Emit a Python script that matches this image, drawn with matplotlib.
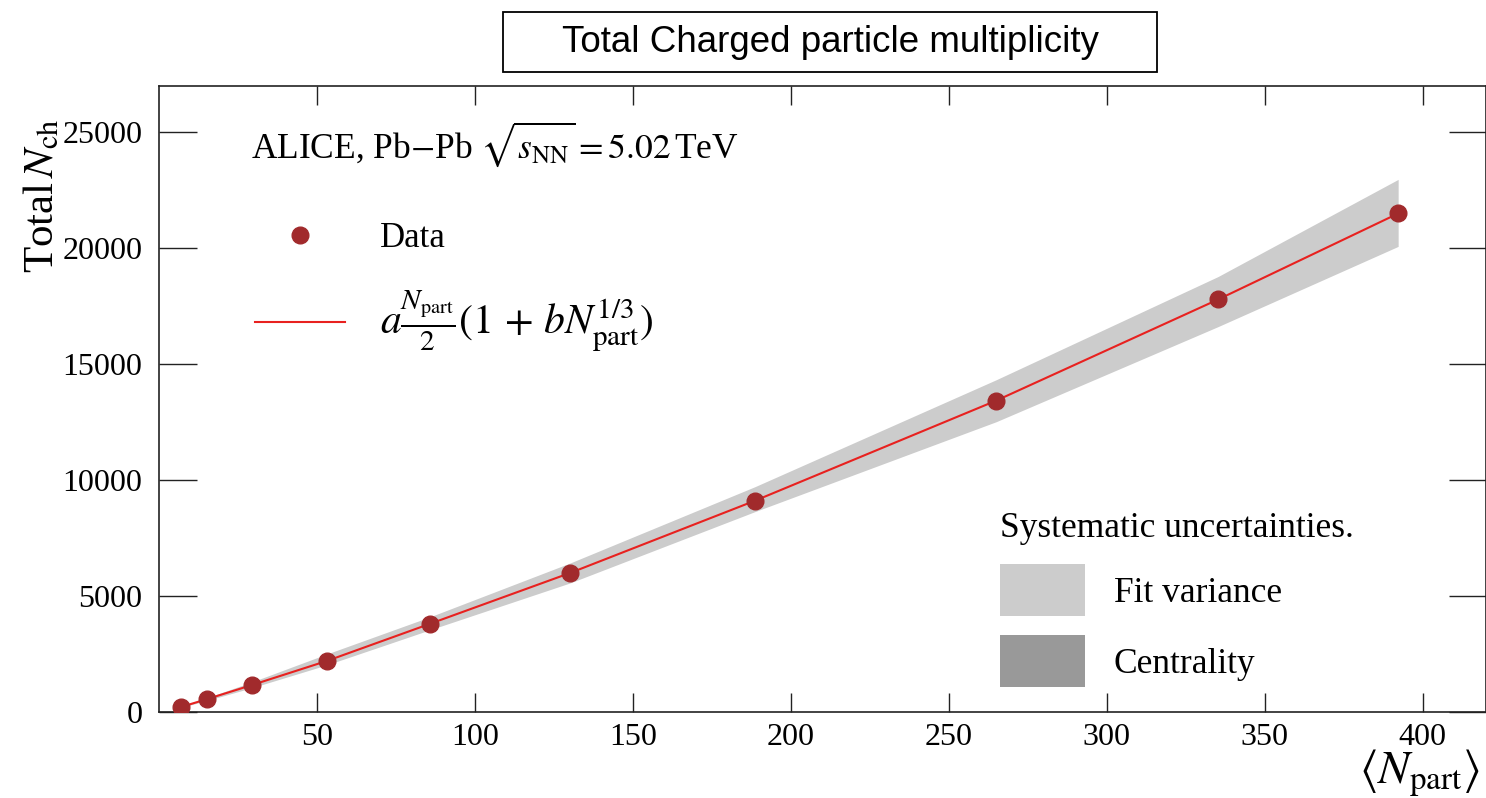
import matplotlib.pyplot as plt
from matplotlib.patches import Patch, Rectangle
from matplotlib.lines import Line2D

plt.rcParams['font.family'] = ['Liberation Serif', 'DejaVu Serif']
plt.rcParams['mathtext.fontset'] = 'stix'

# data
n_part = [7.0, 15.3, 29.5, 53.1, 85.7, 130.2, 188.6, 265.0, 335.2, 392.2]
n_ch = [216, 560, 1166, 2200, 3800, 6000, 9110, 13430, 17790, 21500]
band_hi = [240, 620, 1300, 2500, 4100, 6430, 9715, 14330, 18780, 22970]
band_lo = [195, 500, 1050, 2030, 3540, 5570, 8640, 12520, 16620, 20080]

fig = plt.figure(figsize=(14.86, 7.98), dpi=100)
ax = fig.add_axes([0.107, 0.1078, 0.893, 0.7845])

ax.fill_between(n_part, band_lo, band_hi, color='#cccccc', lw=0, zorder=1)
ax.plot(n_part, n_ch, color='#e8211f', lw=1.5, zorder=2)
ax.plot(n_part, n_ch, 'o', color='#a12a2c', ms=12, zorder=3)

ax.set_xlim(0, 420)
ax.set_ylim(0, 27000)
ax.set_xticks([50, 100, 150, 200, 250, 300, 350, 400])
ax.set_yticks([0, 5000, 10000, 15000, 20000, 25000])
ax.tick_params(axis='both', direction='in', top=True, right=True, labelsize=23, width=1, color='#222222')
ax.tick_params(axis='y', length=27, pad=12)
ax.tick_params(axis='x', length=13.5, pad=8)
for s in ax.spines.values():
    s.set_linewidth(1.2)
    s.set_color('#222222')

ax.set_ylabel(r'Total$\,N_{\rm ch}$', fontsize=31)
ax.yaxis.set_label_coords(-0.073, 0.824)
ax.set_xlabel(r'$\langle N_{\rm part} \rangle$', fontsize=34)
ax.xaxis.set_label_coords(0.95, -0.057)

ax.text(0.069, 0.906, r'ALICE, Pb$-$Pb $\sqrt{s_{\rm NN}}=5.02\,$TeV', transform=ax.transAxes,
        fontsize=25.5, va='center', ha='left')

h1 = [Line2D([], [], ls='none', marker='o', color='#a12a2c', ms=12),
      Line2D([], [], color='#e8211f', lw=1.5)]
lg1 = ax.legend(h1, ['Data', r'$a\frac{N_{\rm part}}{2}(1\,+\,bN_{\rm part}^{1/3})$'],
                loc='upper left', bbox_to_anchor=(0.072, 0.782), frameon=False, fontsize=25,
                handlelength=2.6, handletextpad=1.0, labelspacing=0.95, borderpad=0, borderaxespad=0)
lg1.get_texts()[1].set_fontsize(30)
ax.add_artist(lg1)

h2 = [Patch(facecolor='#cccccc', edgecolor='none'), Patch(facecolor='#999999', edgecolor='none')]
lg2 = ax.legend(h2, ['Fit variance', 'Centrality'], title='Systematic uncertainties.',
                title_fontsize=25.5, loc='lower left', bbox_to_anchor=(0.634, 0.04), frameon=False,
                fontsize=25.5, handlelength=2.4, handleheight=1.86, handletextpad=0.8,
                labelspacing=0.55, borderpad=0, borderaxespad=0, alignment='left')

fig.patches.append(Rectangle((503 / 1486, 1 - 72 / 798), 654 / 1486, 60 / 798,
                             transform=fig.transFigure, fill=False, ec='black', lw=1.3))
fig.text(830 / 1486, 1 - 42 / 798, 'Total Charged particle multiplicity', ha='center', va='center',
         fontsize=26.5, family='Liberation Sans')

fig.savefig('out.png', dpi=100)
